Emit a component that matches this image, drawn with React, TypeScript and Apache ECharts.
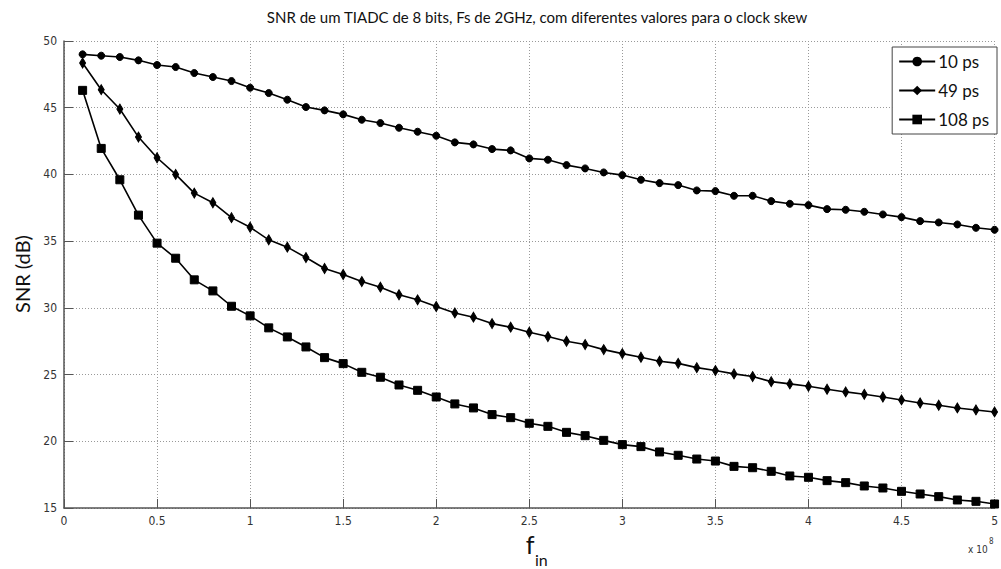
import React, { useEffect, useRef } from "react";
import * as echarts from "echarts";

const TITLE = "SNR de um TIADC de 8 bits, Fs de 2GHz, com diferentes valores para o clock skew";
const SERIES_NAMES = ["10 ps", "49 ps", "108 ps"];

const freqIn = [
  0.1, 0.2, 0.3, 0.4, 0.5, 0.6, 0.7, 0.8, 0.9, 1.0,
  1.1, 1.2, 1.3, 1.4, 1.5, 1.6, 1.7, 1.8, 1.9, 2.0,
  2.1, 2.2, 2.3, 2.4, 2.5, 2.6, 2.7, 2.8, 2.9, 3.0,
  3.1, 3.2, 3.3, 3.4, 3.5, 3.6, 3.7, 3.8, 3.9, 4.0,
  4.1, 4.2, 4.3, 4.4, 4.5, 4.6, 4.7, 4.8, 4.9, 5.0,
];

const snr10ps = [
  49.0, 48.9, 48.8, 48.55, 48.2, 48.05, 47.6, 47.3, 47.0, 46.5,
  46.1, 45.6, 45.05, 44.8, 44.5, 44.1, 43.85, 43.5, 43.2, 42.9,
  42.4, 42.25, 41.9, 41.8, 41.2, 41.1, 40.7, 40.45, 40.15, 39.95,
  39.6, 39.35, 39.2, 38.8, 38.75, 38.4, 38.4, 38.0, 37.8, 37.7,
  37.4, 37.35, 37.2, 37.0, 36.8, 36.5, 36.4, 36.25, 36.0, 35.85,
];

const snr49ps = [
  48.35, 46.35, 44.9, 42.8, 41.25, 40.0, 38.6, 37.88, 36.76, 36.04,
  35.1, 34.55, 33.77, 32.95, 32.5, 31.97, 31.55, 30.98, 30.6, 30.1,
  29.62, 29.3, 28.82, 28.55, 28.17, 27.85, 27.5, 27.25, 26.87, 26.57,
  26.3, 26.0, 25.84, 25.52, 25.3, 25.05, 24.85, 24.47, 24.3, 24.12,
  23.9, 23.7, 23.52, 23.32, 23.1, 22.87, 22.7, 22.5, 22.35, 22.2,
];

const snr108ps = [
  46.3, 41.95, 39.6, 36.95, 34.85, 33.72, 32.1, 31.27, 30.12, 29.4,
  28.5, 27.82, 27.07, 26.27, 25.82, 25.17, 24.8, 24.22, 23.82, 23.32,
  22.8, 22.5, 22.0, 21.77, 21.35, 21.12, 20.67, 20.42, 20.07, 19.75,
  19.6, 19.2, 18.95, 18.67, 18.52, 18.12, 18.02, 17.75, 17.4, 17.3,
  17.05, 16.9, 16.65, 16.5, 16.25, 16.05, 15.85, 15.6, 15.5, 15.3,
];

const TICK_FONT = "'Liberation Sans Narrow', 'DejaVu Sans Condensed', 'Liberation Sans', sans-serif";
const TEXT_FONT = "Lato, 'Open Sans', sans-serif";

export default function App() {
  const ref = useRef<HTMLDivElement>(null);

  useEffect(() => {
    if (!ref.current) return;
    const chart = echarts.init(ref.current, undefined, { renderer: "svg" });
    const pair = (ys: number[]) => freqIn.map((x, i) => [x, ys[i]]);
    const symbols = ["circle", "diamond", "rect"];
    const sizes: any[] = [7, [6, 10], 8];
    const values = [snr10ps, snr49ps, snr108ps];

    chart.setOption({
      animation: false,
      backgroundColor: "#ffffff",
      title: {
        text: TITLE,
        left: 532,
        top: 4,
        textAlign: "center",
        textStyle: { fontFamily: TEXT_FONT, fontSize: 15, fontWeight: "normal", color: "#111" },
      },
      legend: {
        orient: "vertical",
        right: 4,
        top: 47,
        padding: [6, 8, 6, 6],
        itemWidth: 36,
        itemHeight: 12,
        itemGap: 12,
        backgroundColor: "#ffffff",
        borderColor: "#444",
        borderWidth: 1,
        borderRadius: 0,
        textStyle: { fontFamily: TEXT_FONT, fontSize: 17, color: "#111", padding: [0, 0, 0, -2] },
        data: SERIES_NAMES,
      },
      grid: { left: 64, right: 2, top: 41, bottom: 61, containLabel: false },
      xAxis: {
        type: "value",
        min: 0,
        max: 5,
        interval: 0.5,
        axisLine: { show: true, lineStyle: { color: "#555", width: 1.5 } },
        axisTick: { show: true, inside: true, length: 9, lineStyle: { color: "#555" } },
        axisLabel: { fontFamily: TICK_FONT, fontSize: 12, color: "#333", margin: 7 },
        splitLine: { show: true, lineStyle: { color: "#999", type: [1, 2], width: 1 } },
      },
      yAxis: {
        type: "value",
        min: 15,
        max: 50,
        interval: 5,
        axisLine: { show: true, lineStyle: { color: "#555", width: 1.5 } },
        axisTick: { show: true, inside: true, length: 9, lineStyle: { color: "#555" } },
        axisLabel: { fontFamily: TICK_FONT, fontSize: 12, color: "#333", margin: 7 },
        splitLine: { show: true, lineStyle: { color: "#999", type: [1, 2], width: 1 } },
      },
      series: values.map((v, i) => ({
        name: SERIES_NAMES[i],
        type: "line",
        data: pair(v),
        symbol: symbols[i],
        symbolSize: sizes[i],
        showAllSymbol: true,
        lineStyle: { color: "#000", width: 1.6 },
        itemStyle: { color: "#000", borderColor: "#000" },
        emphasis: { disabled: true },
        clip: false,
      })),
      graphic: [
        {
          type: "text",
          x: 22,
          y: 274,
          rotation: Math.PI / 2,
          style: { text: "SNR (dB)", font: `20px ${TEXT_FONT}`, fill: "#111", align: "center", verticalAlign: "middle" },
        },
        {
          type: "text",
          x: 530,
          y: 544,
          style: { text: "f", font: `25px ${TEXT_FONT}`, fill: "#111", align: "center", verticalAlign: "middle" },
        },
        {
          type: "text",
          x: 535,
          y: 559,
          style: { text: "in", font: `16px ${TEXT_FONT}`, fill: "#111", align: "left", verticalAlign: "middle" },
        },
        {
          type: "text",
          x: 968,
          y: 549,
          style: { text: "x 10", font: `10px ${TICK_FONT}`, fill: "#333", align: "left", verticalAlign: "middle" },
        },
        {
          type: "text",
          x: 989,
          y: 541,
          style: { text: "8", font: `8px ${TICK_FONT}`, fill: "#333", align: "left", verticalAlign: "middle" },
        },
      ],
    });
    return () => chart.dispose();
  }, []);

  return (
    <div
      ref={ref}
      style={{ position: "fixed", left: 0, top: 0, width: 1001, height: 569, background: "#fff" }}
    />
  );
}
